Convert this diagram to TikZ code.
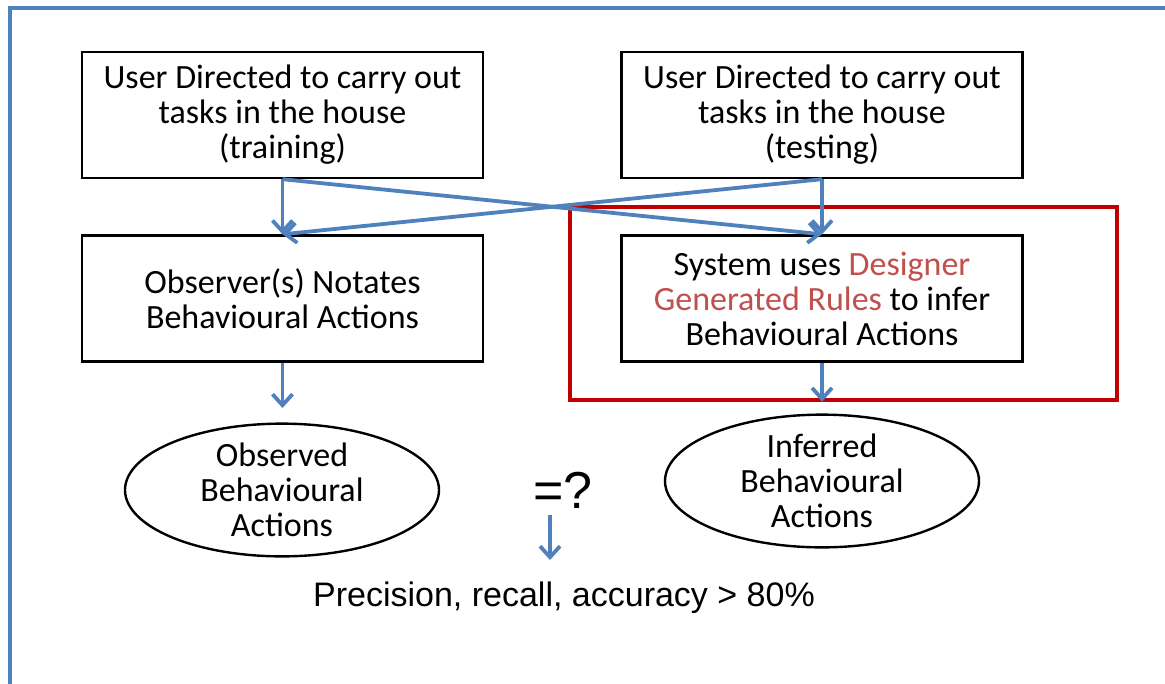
\documentclass[tikz,border=0pt]{standalone}
\usepackage{fontspec}
\setmainfont{Carlito}
\newfontfamily\arialfont{Liberation Sans}
\usetikzlibrary{arrows.meta,shapes.geometric}
\definecolor{frameblue}{RGB}{79,129,189}
\definecolor{arrowblue}{RGB}{79,129,189}
\definecolor{boxred}{RGB}{192,0,0}
\definecolor{textred}{RGB}{192,80,77}
\tikzset{
  stepbox/.style={draw=black, line width=2.4pt, minimum width=401pt, minimum height=126pt,
    align=center, font=\fontsize{34}{35}\selectfont, inner sep=0pt},
  result/.style={draw=black, line width=2.4pt, ellipse, minimum width=314pt, minimum height=130pt,
    align=center, font=\fontsize{34}{35}\selectfont, inner sep=0pt},
  flow/.style={draw=arrowblue, line width=3.8pt, -{Straight Barb[length=11pt,width=20pt,line width=3.8pt]}}
}
\begin{document}
\begin{tikzpicture}[x=1pt,y=-1pt]
  \useasboundingbox (0,0) rectangle (1165,683);
  \fill[white] (0,0) rectangle (1165,683);
  % outer frame (runs off the right and bottom edges)
  \draw[frameblue, line width=3.5pt] (10,700) -- (10,8) -- (1180,8);

  % task boxes
  \node[stepbox] (train) at (282.5,115) {User Directed to carry out\\tasks in the house\\(training)};
  \node[stepbox] (test)  at (822,115)   {User Directed to carry out\\tasks in the house\\(testing)};

  % observation and inference boxes
  \node[stepbox] (observer) at (282.5,298.5) {Observer(s) Notates\\Behavioural Actions};
  \node[stepbox] (system)   at (822,298.5)   {System uses \textcolor{textred}{Designer}\\\textcolor{textred}{Generated Rules} to infer\\Behavioural Actions};

  % highlight around the inference step
  \node[draw=boxred, line width=3.5pt, minimum width=547pt, minimum height=193pt, inner sep=0pt]
    (highlight) at (843.5,303.5) {};

  % outcomes
  \node[result] (observed) at (282,490) {Observed\\Behavioural\\Actions};
  \node[result] (inferred) at (822,481) {Inferred\\Behavioural\\Actions};

  \node[font=\arialfont\fontsize{52}{56}\selectfont] (eq) at (563,490) {=?};
  \node[font=\arialfont\fontsize{34}{38}\selectfont] (metrics) at (564,598) {Precision, recall, accuracy > 80\%};

  % connectors
  \draw[flow] (train.south) -- (observer.north);
  \draw[flow] (train.south) -- (system.north);
  \draw[flow] (test.south) -- (system.north);
  \draw[flow] (test.south) -- (observer.north);
  \draw[flow] (observer.south) -- (282.5,408);
  \draw[flow] (system.south) -- (highlight.south -| system.south);
  \coordinate (eqtail) at (550,515);
  \coordinate (eqhead) at (550,560);
  \draw[flow] (eqtail) -- (eqhead);
\end{tikzpicture}
\end{document}
